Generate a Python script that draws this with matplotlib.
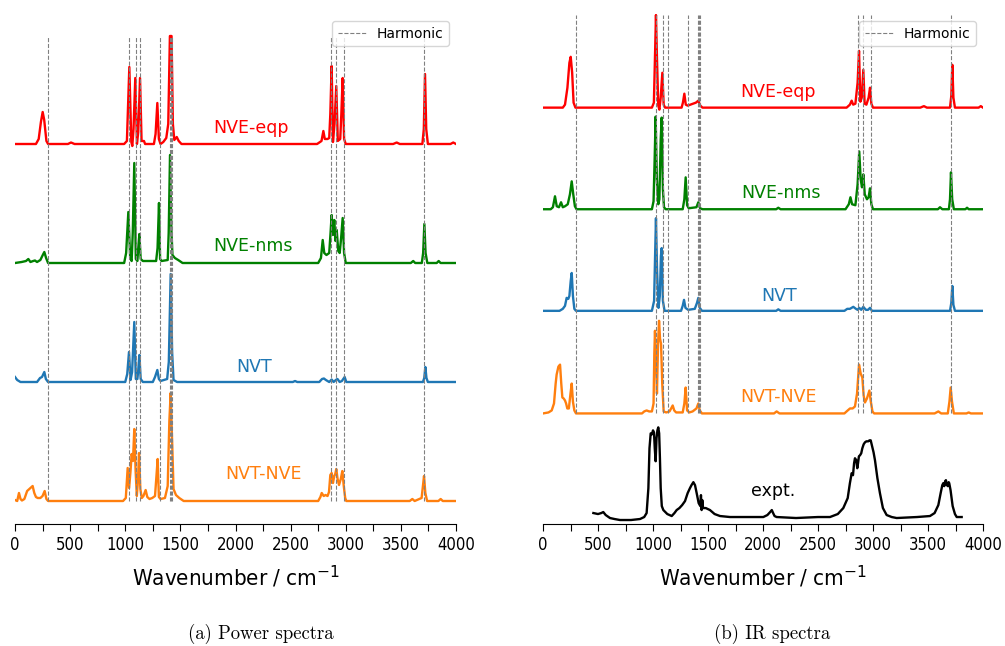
import numpy as np
import matplotlib
matplotlib.use("Agg")
import matplotlib.pyplot as plt
from matplotlib import font_manager
from matplotlib.ticker import MultipleLocator

# harmonic frequencies (cm^-1), same in both panels
harmonic = [300, 1030, 1095, 1132, 1318, 1407, 1418, 1428, 2866, 2912, 2985, 3710]

# ---- (a) power spectra: wavenumber / intensity (a.u.) ----
ps_eqp_w = [0, 190, 215, 235, 251, 265, 285, 300, 480, 508, 540, 990, 1015, 1037, 1055, 1064, 1075,
            1091, 1106, 1118, 1134, 1148, 1170, 1180, 1260, 1275, 1291, 1305, 1320, 1345, 1372, 1390,
            1405, 1420, 1432, 1445, 1467, 1485, 1510, 2740, 2780, 2797, 2810, 2835, 2850, 2860, 2872,
            2884, 2898, 2914, 2928, 2950, 2960, 2972, 2985, 3000, 3430, 3462, 3490, 3695, 3708, 3719,
            3730, 3745, 3950, 3975, 4000]
ps_eqp_i = [0, 0, 5, 22, 32, 24, 3, 0, 0, 1.5, 0, 0, 3, 77, 2, -2, 15,
            66, 0, 12, 66, 3, 3, 0, 0, 10, 41, 5, 0, 2, 6, 20,
            108, 108, 20, 4, 7, 3, 0, 0, 3, 13, 5, 5, 6, 30, 78,
            2, 20, 58, 3, 5, 30, 66, 5, 0, 0, 1.5, 0, 0, 15, 70,
            15, 0, 0, 1.5, 0]

ps_nms_w = [0, 60, 100, 121, 140, 165, 181, 200, 230, 252, 266, 282, 300, 990, 1008, 1028, 1045,
            1058, 1068, 1082, 1096, 1110, 1118, 1128, 1140, 1160, 1280, 1293, 1306, 1316, 1330, 1385,
            1394, 1406, 1418, 1428, 1450, 1480, 1520, 2750, 2775, 2791, 2805, 2825, 2850, 2862, 2872,
            2884, 2896, 2907, 2918, 2932, 2945, 2958, 2972, 2985, 3000, 3590, 3612, 3630, 3690, 3702,
            3713, 3724, 3740, 3825, 3843, 3860, 4000]
ps_nms_i = [0, 1, 2, 4, 1, 2, 2.5, 1, 3, 8, 11, 5, 0, 0, 10, 51, 5,
            2, 30, 100, 4, 2, 15, 29, 4, 2, 2, 15, 60, 4, 2, 3,
            30, 108, 35, 8, 5, 3, 0, 0, 5, 23, 10, 8, 10, 30, 48,
            28, 43, 22, 33, 12, 10, 25, 45, 10, 0, 0, 2, 0, 0, 10,
            39, 10, 0, 0, 2, 0, 0]

ps_nvt_w = [0, 20, 50, 200, 227, 245, 266, 280, 300, 1000, 1018, 1034, 1048, 1062, 1082, 1096, 1110,
            1118, 1128, 1140, 1160, 1250, 1270, 1291, 1305, 1320, 1380, 1395, 1412, 1425, 1438, 1470,
            2520, 2540, 2560, 2760, 2785, 2802, 2820, 2850, 2872, 2890, 2910, 2925, 2945, 2965, 2990,
            3005, 3700, 3712, 3722, 3732, 3745, 4000]
ps_nvt_i = [5, 2, 0, 0, 4, 5, 10, 3, 0, 0, 8, 30, 2, 10, 60, 3, 3,
            12, 27, 3, 0, 0, 5, 12, 3, 1, 3, 20, 108, 30, 2, 0,
            0, 1, 0, 0, 3, 3.5, 2, 0, 2.5, 0, 2, 3, 0, 1, 5,
            0, 0, 4, 15, 4, 0, 0]

ps_nvtnve_w = [0, 20, 36, 50, 63, 85, 110, 130, 160, 175, 190, 206, 230, 250, 269, 285, 300, 980,
               1005, 1022, 1035, 1048, 1058, 1070, 1082, 1094, 1105, 1115, 1125, 1137, 1150, 1165,
               1185, 1200, 1220, 1245, 1270, 1283, 1294, 1305, 1320, 1360, 1385, 1400, 1412, 1425,
               1438, 1460, 1490, 1530, 2750, 2770, 2782, 2800, 2817, 2835, 2848, 2860, 2872, 2884,
               2896, 2905, 2914, 2926, 2939, 2955, 2969, 2982, 2995, 3005, 3580, 3604, 3625, 3688,
               3700, 3710, 3722, 3738, 3840, 3861, 3880, 4000]
ps_nvtnve_i = [1, 0, 8, 2, 0.5, 2, 10, 12, 15, 8, 4, 3, 3, 5, 10, 2, 0, 0,
               3, 33, 13, 30, 47, 40, 72, 30, 5, 20, 48, 12, 3, 5,
               11, 4, 2, 3, 5, 25, 42, 4, 2, 3, 15, 80, 108, 60,
               12, 6, 3, 0, 0, 4, 8, 5, 6, 5, 9, 26, 28, 18,
               25, 27, 32, 22, 16, 22, 30, 15, 3, 0, 0, 2, 0, 3,
               15, 25, 8, 0, 0, 2, 0, 0]

# ---- (b) IR spectra ----
ir_eqp_w = [0, 180, 200, 222, 240, 252, 265, 278, 295, 990, 1008, 1020, 1027, 1036, 1048, 1058, 1070,
            1085, 1097, 1110, 1260, 1272, 1285, 1298, 1315, 1340, 1365, 1390, 1412, 1430, 1450, 2760,
            2790, 2806, 2820, 2840, 2860, 2873, 2885, 2898, 2912, 2924, 2940, 2960, 2973, 2985, 3000,
            3430, 3463, 3490, 3700, 3712, 3721, 3731, 3745, 3960, 3980, 4000]
ir_eqp_i = [0, 0, 3, 20, 45, 51, 35, 5, 0, 0, 5, 60, 93, 50, 2, -2, 10,
            35, 3, 0, 0, 5, 14, 3, 2, 3, 4, 5, 7, 2, 0, 0,
            3, 7, 3, 4, 25, 57, 6, 10, 38, 4, 3, 10, 20, 4, 0,
            0, 1.5, 0, 0, 12, 43, 10, 0, 0, 1.5, 0]

ir_nms_w = [0, 70, 90, 109, 125, 145, 164, 180, 200, 225, 245, 261, 275, 290, 305, 990, 1005, 1015,
            1024, 1035, 1048, 1058, 1070, 1079, 1090, 1100, 1115, 1270, 1285, 1297, 1310, 1325, 1395,
            1412, 1428, 1450, 2120, 2139, 2160, 2750, 2780, 2795, 2810, 2840, 2860, 2875, 2888, 2900,
            2912, 2925, 2945, 2960, 2973, 2985, 3000, 3590, 3609, 3630, 3690, 3700, 3709, 3720, 3735,
            3840, 3855, 3870, 4000]
ir_nms_i = [0, 0, 2, 13, 3, 2, 7, 2, 3, 5, 15, 28, 15, 3, 0, 0, 8, 50,
            93, 30, 5, 10, 70, 92, 20, 2, 0, 0, 10, 32, 4, 1, 2,
            7, 1, 0, 0, 1.5, 0, 0, 5, 12, 5, 4, 25, 58, 30, 22,
            35, 15, 10, 12, 21, 5, 0, 0, 2, 0, 0, 10, 37, 10, 0,
            0, 1.5, 0, 0]

ir_nvt_w = [0, 150, 180, 200, 215, 230, 240, 252, 261, 272, 285, 300, 990, 1010, 1020, 1027, 1037,
            1050, 1062, 1072, 1079, 1090, 1105, 1255, 1270, 1282, 1295, 1320, 1380, 1400, 1412, 1425,
            1445, 2120, 2139, 2160, 2740, 2766, 2790, 2821, 2845, 2860, 2875, 2893, 2912, 2935, 2955,
            2973, 2990, 3700, 3712, 3721, 3731, 3745, 4000]
ir_nvt_i = [0, 0, 2, 5, 13, 12, 15, 30, 38, 15, 2, 0, 0, 10, 60, 93, 40,
            3, 15, 55, 63, 10, 0, 0, 5, 11, 3, 1, 2, 8, 13, 3,
            0, 0, 1.5, 0, 0, 2, 2, 4, 2, 1, 3, 1, 4, 1, 1,
            3, 0, 0, 8, 25, 6, 0, 0]

ir_nvtnve_w = [0, 50, 79, 100, 115, 124, 140, 155, 166, 176, 188, 200, 210, 221, 235, 250, 261, 272,
               285, 300, 900, 920, 942, 965, 990, 1005, 1012, 1018, 1028, 1036, 1046, 1055, 1064,
               1073, 1084, 1097, 1120, 1150, 1165, 1179, 1193, 1210, 1270, 1285, 1297, 1310, 1330,
               1360, 1395, 1412, 1425, 1445, 2100, 2124, 2150, 2740, 2770, 2791, 2815, 2836, 2855,
               2873, 2888, 2903, 2915, 2927, 2945, 2967, 2980, 2995, 3010, 3560, 3594, 3620, 3680,
               3695, 3706, 3718, 3735, 3850, 3870, 3890, 4000]
ir_nvtnve_i = [0, 1, 3, 10, 30, 39, 47, 49, 30, 16, 15, 13, 10, 5, 5, 20, 30, 12,
               3, 0, 0, 2, 3, 2, 2, 10, 60, 83, 50, 20, 70, 93, 75,
               70, 30, 2, 1, 2, 5, 8, 3, 1, 1, 10, 26, 3, 1,
               2, 5, 10, 3, 0, 0, 2, 0, 0, 3, 5, 5, 7, 20,
               49, 40, 36, 18, 11, 15, 23, 12, 2, 0, 0, 2, 0, 0,
               12, 26, 12, 0, 0, 1, 0, 0]

expt_w = [458, 500, 530, 548, 570, 609, 650, 700, 800, 882, 920, 942, 958, 968, 979, 990, 1000, 1009,
          1016, 1024, 1032, 1040, 1048, 1056, 1063, 1070, 1080, 1094, 1130, 1170, 1195, 1215, 1240,
          1265, 1291, 1315, 1336, 1350, 1367, 1382, 1397, 1415, 1430, 1436, 1442, 1448, 1455, 1480,
          1518, 1560, 1609, 1700, 1800, 1900, 2003, 2040, 2065, 2080, 2092, 2105, 2124, 2300, 2500,
          2609, 2680, 2730, 2770, 2790, 2806, 2818, 2828, 2836, 2848, 2857, 2864, 2872, 2882, 2893,
          2903, 2915, 2927, 2940, 2957, 2968, 2979, 2992, 3005, 3018, 3040, 3063, 3090, 3124, 3170,
          3215, 3400, 3518, 3560, 3594, 3615, 3630, 3639, 3648, 3656, 3663, 3672, 3681, 3688, 3693,
          3705, 3724, 3745, 3761, 3806]
expt_i = [5, 4, 5, 6, 3, 0, -1, -2, -2, -1, 1, 5, 30, 70, 85, 84, 88, 86,
          70, 57, 80, 88, 91, 85, 60, 30, 12, 8, 4, 2, 5, 8, 10,
          13, 17, 25, 30, 33, 36, 33, 25, 15, 12, 23, 8, 18, 10, 10,
          8, 4, 2, 1, 1, 1, 1, 3, 6, 8, 5, 2, 1, 0, 1,
          1, 4, 10, 20, 35, 45, 43, 55, 60, 58, 50, 55, 62, 63, 65,
          70, 74, 76, 77, 77, 78, 78, 72, 66, 58, 40, 25, 10, 3, 1,
          0, 1, 2, 5, 13, 25, 33, 35, 32, 37, 38, 33, 32, 36, 35,
          28, 12, 4, 1, 1]

labels = ["NVE-eqp", "NVE-nms", "NVT", "NVT-NVE"]
colors = ["#ff0000", "#008000", "#1f77b4", "#ff7f0e"]

ps_sets = [(ps_eqp_w, ps_eqp_i), (ps_nms_w, ps_nms_i), (ps_nvt_w, ps_nvt_i), (ps_nvtnve_w, ps_nvtnve_i)]
ir_sets = [(ir_eqp_w, ir_eqp_i), (ir_nms_w, ir_nms_i), (ir_nvt_w, ir_nvt_i), (ir_nvtnve_w, ir_nvtnve_i)]

# vertical stacking and label placement
ps_offsets = [357, 238, 119, 0]
ir_offsets = [412, 310, 208, 105]
ps_label_pos = [(2138, 16), (2162, 17), (2168, 15), (2252, 27)]
ir_label_pos = [(2136, 16), (2160, 16), (2150, 15), (2145, 16)]


def pick_tick_font():
    entries = font_manager.fontManager.ttflist
    for f in entries:
        if f.name == "DejaVu Sans" and "Condensed" in f.fname:
            return {"family": "DejaVu Sans", "stretch": "condensed"}
    names = {f.name for f in entries}
    if "Liberation Sans Narrow" in names:
        return {"family": "Liberation Sans Narrow"}
    return {"family": "DejaVu Sans"}


TICK_FONT = pick_tick_font()


def style_axis(ax, ylim):
    ax.set_xlim(0, 4000)
    ax.set_ylim(*ylim)
    ax.set_yticks([])
    for s in ("top", "left", "right"):
        ax.spines[s].set_visible(False)
    ax.xaxis.set_major_locator(MultipleLocator(500))
    ax.xaxis.set_minor_locator(MultipleLocator(250))
    ax.tick_params(axis="x", which="both", direction="out", length=5, width=0.8)
    for lab in ax.get_xticklabels():
        lab.set_fontproperties(font_manager.FontProperties(size=12, **TICK_FONT))
    ax.set_xlabel("Wavenumber / cm$^{-1}$", fontsize=16, labelpad=7, **TICK_FONT)


def draw_panel(ax, sets, offsets, label_pos):
    all_y = []
    for (w, inten), off, lab, col, (lx, ly) in zip(sets, offsets, labels, colors, label_pos):
        y = np.array(inten, dtype=float) + off
        ax.plot(w, y, color=col, lw=1.7)
        ax.text(lx, off + ly, lab, color=col, fontsize=12.5, ha="center", va="center")
        all_y.append(y)
    all_y = np.concatenate(all_y)
    ax.vlines(harmonic, all_y.min(), all_y.max(), colors="grey", linestyles="--",
              lw=0.8, label="Harmonic")
    ax.legend(loc="upper right", fontsize=10)


fig = plt.figure(figsize=(10.05, 6.46), dpi=100)
ax1 = fig.add_axes([15 / 1005, 122 / 646, 441 / 1005, 510 / 646])
ax2 = fig.add_axes([543 / 1005, 122 / 646, 440 / 1005, 510 / 646])

draw_panel(ax1, ps_sets, ps_offsets, ps_label_pos)
style_axis(ax1, (-23, 487))

draw_panel(ax2, ir_sets, ir_offsets, ir_label_pos)
ax2.plot(expt_w, expt_i, color="black", lw=1.7)
ax2.text(2091, 27, "expt.", color="black", fontsize=12.5, ha="center", va="center")
style_axis(ax2, (-6, 506))

fig.text(261 / 1005, 1 - 634 / 646, "(a) Power spectra", family="cmr10", fontsize=13.5,
         ha="center", va="center")
fig.text(772 / 1005, 1 - 634 / 646, "(b) IR spectra", family="cmr10", fontsize=13.5,
         ha="center", va="center")

fig.savefig("out.png", dpi=100)
